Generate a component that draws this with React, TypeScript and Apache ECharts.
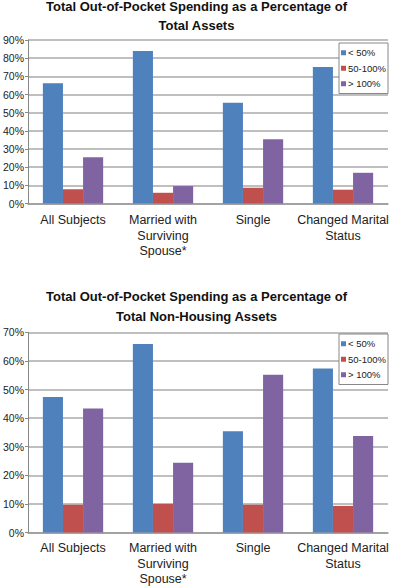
import React, { useEffect, useRef } from "react";
import * as echarts from "echarts";

const categories = [
  "All Subjects",
  "Married with\nSurviving\nSpouse*",
  "Single",
  "Changed Marital\nStatus",
];
const seriesNames = ["< 50%", "50-100%", "> 100%"];
const colors = ["#4F81BD", "#C0504D", "#8064A2"];

// Chart 1: Total Assets
const assetsLow = [66.2, 84.0, 55.4, 75.2];
const assetsMid = [7.8, 5.9, 8.7, 7.6];
const assetsHigh = [25.4, 9.6, 35.4, 16.9];

// Chart 2: Total Non-Housing Assets
const nonHousingLow = [47.4, 65.9, 35.4, 57.3];
const nonHousingMid = [9.7, 10.0, 9.7, 9.3];
const nonHousingHigh = [43.4, 24.4, 55.2, 33.7];

const title1 = "Total Out-of-Pocket Spending as a Percentage of\nTotal Assets";
const title2 = "Total Out-of-Pocket Spending as a Percentage of\nTotal Non-Housing Assets";

const FONT = "Liberation Sans, Arial, sans-serif";

export default function App() {
  const ref = useRef<HTMLDivElement>(null);
  useEffect(() => {
    if (!ref.current) return;
    const chart = echarts.init(ref.current, undefined, { renderer: "svg" });
    const gridLeft = 23;
    const gridRight = 5;
    const grids = [
      { left: gridLeft, right: gridRight, top: 40, height: 163.5 },
      { left: gridLeft, right: gridRight, top: 332.3, height: 202.4 },
    ];
    const mkX = (gi: number, margin: number) => ({
      type: "category",
      gridIndex: gi,
      data: categories,
      axisLine: { show: true, lineStyle: { color: "#999", width: 1.5 } },
      axisTick: { show: false },
      axisLabel: {
        margin,
        fontFamily: FONT,
        fontSize: 12.5,
        lineHeight: 15.5,
        color: "#222",
        interval: 0,
      },
    });
    const mkY = (gi: number, max: number) => ({
      type: "value",
      gridIndex: gi,
      min: 0,
      max,
      interval: 10,
      axisLine: { show: true, lineStyle: { color: "#888", width: 1 } },
      axisTick: { show: true, length: 3, lineStyle: { color: "#888" } },
      axisLabel: {
        margin: 4,
        formatter: "{value}%",
        fontFamily: FONT,
        fontSize: 10.5,
        color: "#222",
      },
      splitLine: { show: true, lineStyle: { color: "#aaa", width: 1.5 } },
    });
    const data1 = [assetsLow, assetsMid, assetsHigh];
    const data2 = [nonHousingLow, nonHousingMid, nonHousingHigh];
    const series: any[] = [];
    [data1, data2].forEach((set, gi) => {
      set.forEach((vals, si) => {
        series.push({
          type: "bar",
          name: seriesNames[si],
          xAxisIndex: gi,
          yAxisIndex: gi,
          data: vals,
          barGap: "0%",
          barCategoryGap: "33%",
          itemStyle: { color: colors[si] },
        });
      });
    });
    const mkLegend = (top: number) => ({
      orient: "vertical",
      left: 339,
      top,
      width: 47,
      data: seriesNames.map((n, i) => ({ name: n, itemStyle: { color: colors[i] } })),
      icon: "rect",
      itemWidth: 5,
      itemHeight: 5,
      itemGap: 4,
      padding: [4, 2, 4, 2],
      borderColor: "#888",
      borderWidth: 1,
      backgroundColor: "#fff",
      selectedMode: false,
      textStyle: {
        fontFamily: FONT,
        fontSize: 9.5,
        lineHeight: 11.5,
        color: "#222",
        padding: [0, 0, 0, -3],
      },
    });
    const titleStyle = (lh: number) => ({
      fontFamily: FONT,
      fontSize: 13,
      fontWeight: "bold",
      lineHeight: lh,
      color: "#111",
    });
    chart.setOption({
      animation: false,
      backgroundColor: "#fff",
      title: [
        { text: title1, left: "center", top: -8.5, textStyle: titleStyle(19) },
        { text: title2, left: "center", top: 281.5, textStyle: titleStyle(20) },
      ],
      legend: [mkLegend(43), mkLegend(334)],
      grid: grids,
      xAxis: [mkX(0, 9), mkX(1, 8)],
      yAxis: [mkY(0, 90), mkY(1, 70)],
      series,
    });
    return () => chart.dispose();
  }, []);
  return (
    <div
      ref={ref}
      style={{ position: "fixed", left: 0, top: 0, width: 393, height: 587 }}
    />
  );
}
